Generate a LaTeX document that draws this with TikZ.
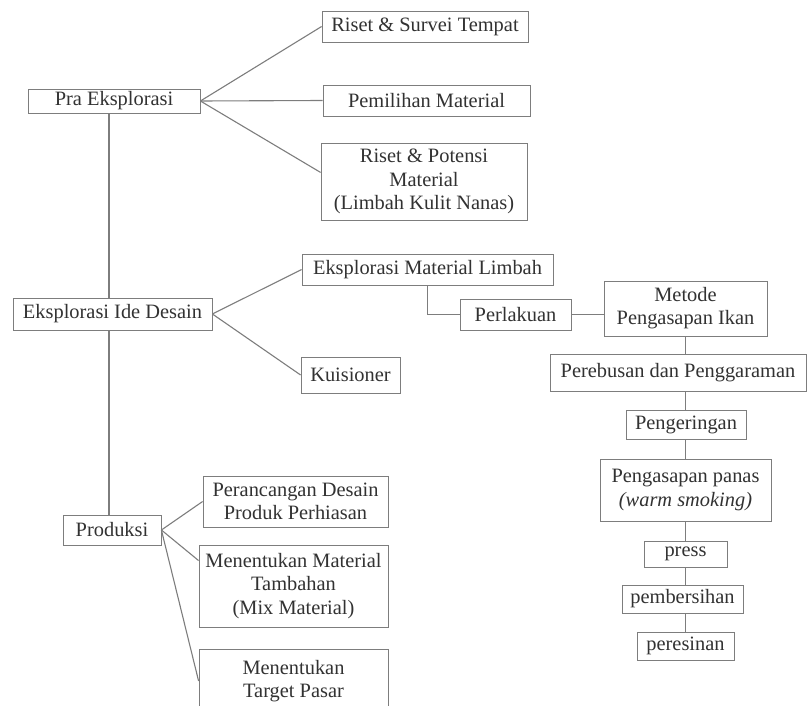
\documentclass[tikz,border=0pt]{standalone}
\usepackage{fontspec}
\setmainfont{Liberation Serif}[Ligatures=TeX]
\newfontfamily\boxfont{Liberation Serif}
\definecolor{linegray}{RGB}{125,125,125}
\definecolor{textgray}{RGB}{50,50,50}
\tikzset{
  box/.style={draw=linegray, fill=white, text=textgray, align=center,
    inner sep=0pt, font=\boxfont\fontsize{10.2}{11.6}\selectfont},
  link/.style={draw=linegray, line width=0.55pt}
}

\begin{document}
\begin{tikzpicture}[x=0.5pt, y=-0.5pt]
      \useasboundingbox (0,0) rectangle (808,706);
      \clip (0,0) rectangle (808,706);
      \draw (114,101) node[box, minimum width=86pt, minimum height=12pt] (pra) {Pra Eksplorasi};
      \draw (425,26.5) node[box, minimum width=103pt, minimum height=15.5pt] (survei) {Riset \& Survei Tempat};
      \draw (426.5,100.5) node[box, minimum width=103.5pt, minimum height=15.5pt] (pemilihan) {Pemilihan Material};
      \draw (424,181.5) node[box, minimum width=103pt, minimum height=38.5pt] (potensi) {Riset \& Potensi\\Material\\(Limbah Kulit Nanas)};
      \draw (112.5,314) node[box, minimum width=99.5pt, minimum height=16pt] (ide) {Eksplorasi Ide Desain};
      \draw (427.5,269.5) node[box, minimum width=125.5pt, minimum height=15.5pt] (limbah) {Eksplorasi Material Limbah};
      \draw (515.5,314.5) node[box, minimum width=55.5pt, minimum height=15.5pt] (perlakuan) {Perlakuan};
      \draw (350.5,375) node[box, minimum width=49.5pt, minimum height=18pt] (kuisioner) {Kuisioner};
      \draw (685.5,308.5) node[box, minimum width=81.5pt, minimum height=27.5pt] (metode) {Metode\\Pengasapan Ikan};
      \draw (678,372.5) node[box, minimum width=128pt, minimum height=18.5pt] (perebusan) {Perebusan dan Penggaraman};
      \draw (686,424.5) node[box, minimum width=60pt, minimum height=14.5pt] (pengeringan) {Pengeringan};
      \draw (685.5,490) node[box, minimum width=85.5pt, minimum height=31pt] (panas) {Pengasapan panas\\\textit{(warm smoking)}};
      \draw (685.5,554) node[box, minimum width=41.5pt, minimum height=13pt] (press) {press};
      \draw (682.5,599) node[box, minimum width=60.5pt, minimum height=14pt] (pembersihan) {pembersihan};
      \draw (685.5,646) node[box, minimum width=48.5pt, minimum height=14pt] (peresinan) {peresinan};
      \draw (112,530) node[box, minimum width=49pt, minimum height=15pt] (produksi) {Produksi};
      \draw (295.5,501.5) node[box, minimum width=92.5pt, minimum height=25.5pt] (perancangan) {Perancangan Desain\\Produk Perhiasan};
      \draw (293.5,586) node[box, minimum width=94.5pt, minimum height=41pt] (mixmat) {Menentukan Material\\Tambahan\\(Mix Material)};
      \draw (293.5,681) node[box, minimum width=94.5pt, minimum height=32pt] (target) {Menentukan\\Target Pasar};
      \coordinate (spine) at (109,0);
      \draw[link] (spine |- pra.south) -- (spine |- ide.north);
      \draw[link] (spine |- ide.south) -- (spine |- produksi.north);
      \draw[link] (pra.east) -- (survei.west);
      \draw[link] (pra.east) -- (pemilihan.west);
      \draw[link] (pra.east) -- (potensi.175);
      \draw[link] (ide.east) -- (limbah.west);
      \draw[link] (ide.east) -- (kuisioner.west);
      \draw[link] (limbah.south) |- (perlakuan.west);
      \draw[link] (perlakuan.east) -- (perlakuan.east -| metode.west);
      \foreach \a/\b in {metode/perebusan, perebusan/pengeringan, pengeringan/panas,
                         panas/press, press/pembersihan, pembersihan/peresinan}
        \draw[link] (metode |- \a.south) -- (metode |- \b.north);
      \draw[link] (produksi.east) -- (perancangan.west);
      \draw[link] (produksi.east) -- (mixmat.165);
      \draw[link] (produksi.east) -- (target.west);
     \end{tikzpicture}
\end{document}
